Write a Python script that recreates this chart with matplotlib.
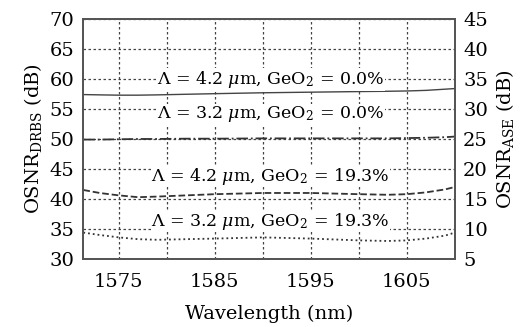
import matplotlib
matplotlib.use("Agg")
import matplotlib.pyplot as plt

plt.rcParams['font.family'] = 'DejaVu Serif'
plt.rcParams['mathtext.fontset'] = 'dejavuserif'

# wavelength samples (nm)
wavelength = [1571.3, 1573, 1575, 1577, 1579, 1582, 1585, 1590, 1595, 1600, 1603, 1605, 1607, 1609, 1610]
# OSNR_DRBS (dB) for each configuration
osnr_42_00 = [57.4, 57.35, 57.3, 57.3, 57.35, 57.45, 57.55, 57.7, 57.8, 57.9, 57.95, 58.0, 58.1, 58.3, 58.4]
osnr_32_00 = [49.9, 49.9, 49.95, 50.0, 50.0, 50.05, 50.05, 50.1, 50.1, 50.1, 50.1, 50.15, 50.2, 50.3, 50.4]
osnr_42_193 = [41.5, 41.0, 40.6, 40.3, 40.4, 40.6, 40.8, 41.0, 41.0, 40.8, 40.7, 40.8, 41.1, 41.6, 42.0]
osnr_32_193 = [34.4, 34.0, 33.6, 33.3, 33.2, 33.3, 33.4, 33.6, 33.4, 33.1, 33.0, 33.1, 33.4, 33.9, 34.4]

labels = [r'$\Lambda$ = 4.2 $\mu$m, GeO$_2$ = 0.0%',
          r'$\Lambda$ = 3.2 $\mu$m, GeO$_2$ = 0.0%',
          r'$\Lambda$ = 4.2 $\mu$m, GeO$_2$ = 19.3%',
          r'$\Lambda$ = 3.2 $\mu$m, GeO$_2$ = 19.3%']
label_y = [59.9, 54.1, 43.8, 36.3]

fig = plt.figure(figsize=(5.21, 3.27), dpi=100)
ax = fig.add_axes([0.159, 0.208, 0.714, 0.734])

ax.plot(wavelength, osnr_42_00, color='#444444', lw=1.0, ls='-')
ax.plot(wavelength, osnr_32_00, color='#333333', lw=1.3, ls='-.')
ax.plot(wavelength, osnr_42_193, color='#333333', lw=1.3, ls='--')
ax.plot(wavelength, osnr_32_193, color='#333333', lw=1.3, ls=':')

for txt, yy in zip(labels, label_y):
    ax.text(1590.8, yy, txt, ha='center', va='center', fontsize=12.5,
            bbox=dict(facecolor='white', edgecolor='none', pad=0.5))

ax.set_xlim(1571.25, 1610)
ax.set_ylim(30, 70)
ax.set_xticks([1575, 1585, 1595, 1605])
ax.set_xticks(range(1575, 1610, 5), minor=True)
ax.set_yticks(range(30, 71, 5))
ax.grid(True, which='both', ls=(0, (2, 2)), color='#444444', lw=0.9)
ax.tick_params(which='both', length=0, labelsize=14)
ax.tick_params(axis='x', pad=10)
ax.tick_params(axis='y', pad=6)
ax.set_xlabel('Wavelength (nm)', fontsize=14, labelpad=10)
ax.set_ylabel(r'OSNR$_{\mathrm{DRBS}}$ (dB)', fontsize=14)
for s in ax.spines.values():
    s.set_color('#555555')
    s.set_linewidth(1.3)

ax2 = ax.twinx()
ax2.set_ylim(5, 45)
ax2.set_yticks(range(5, 46, 5))
ax2.tick_params(length=0, labelsize=14, pad=6)
ax2.set_ylabel(r'OSNR$_{\mathrm{ASE}}$ (dB)', fontsize=14)
for s in ax2.spines.values():
    s.set_color('#555555')
    s.set_linewidth(1.3)

fig.savefig('out.png', dpi=100)
